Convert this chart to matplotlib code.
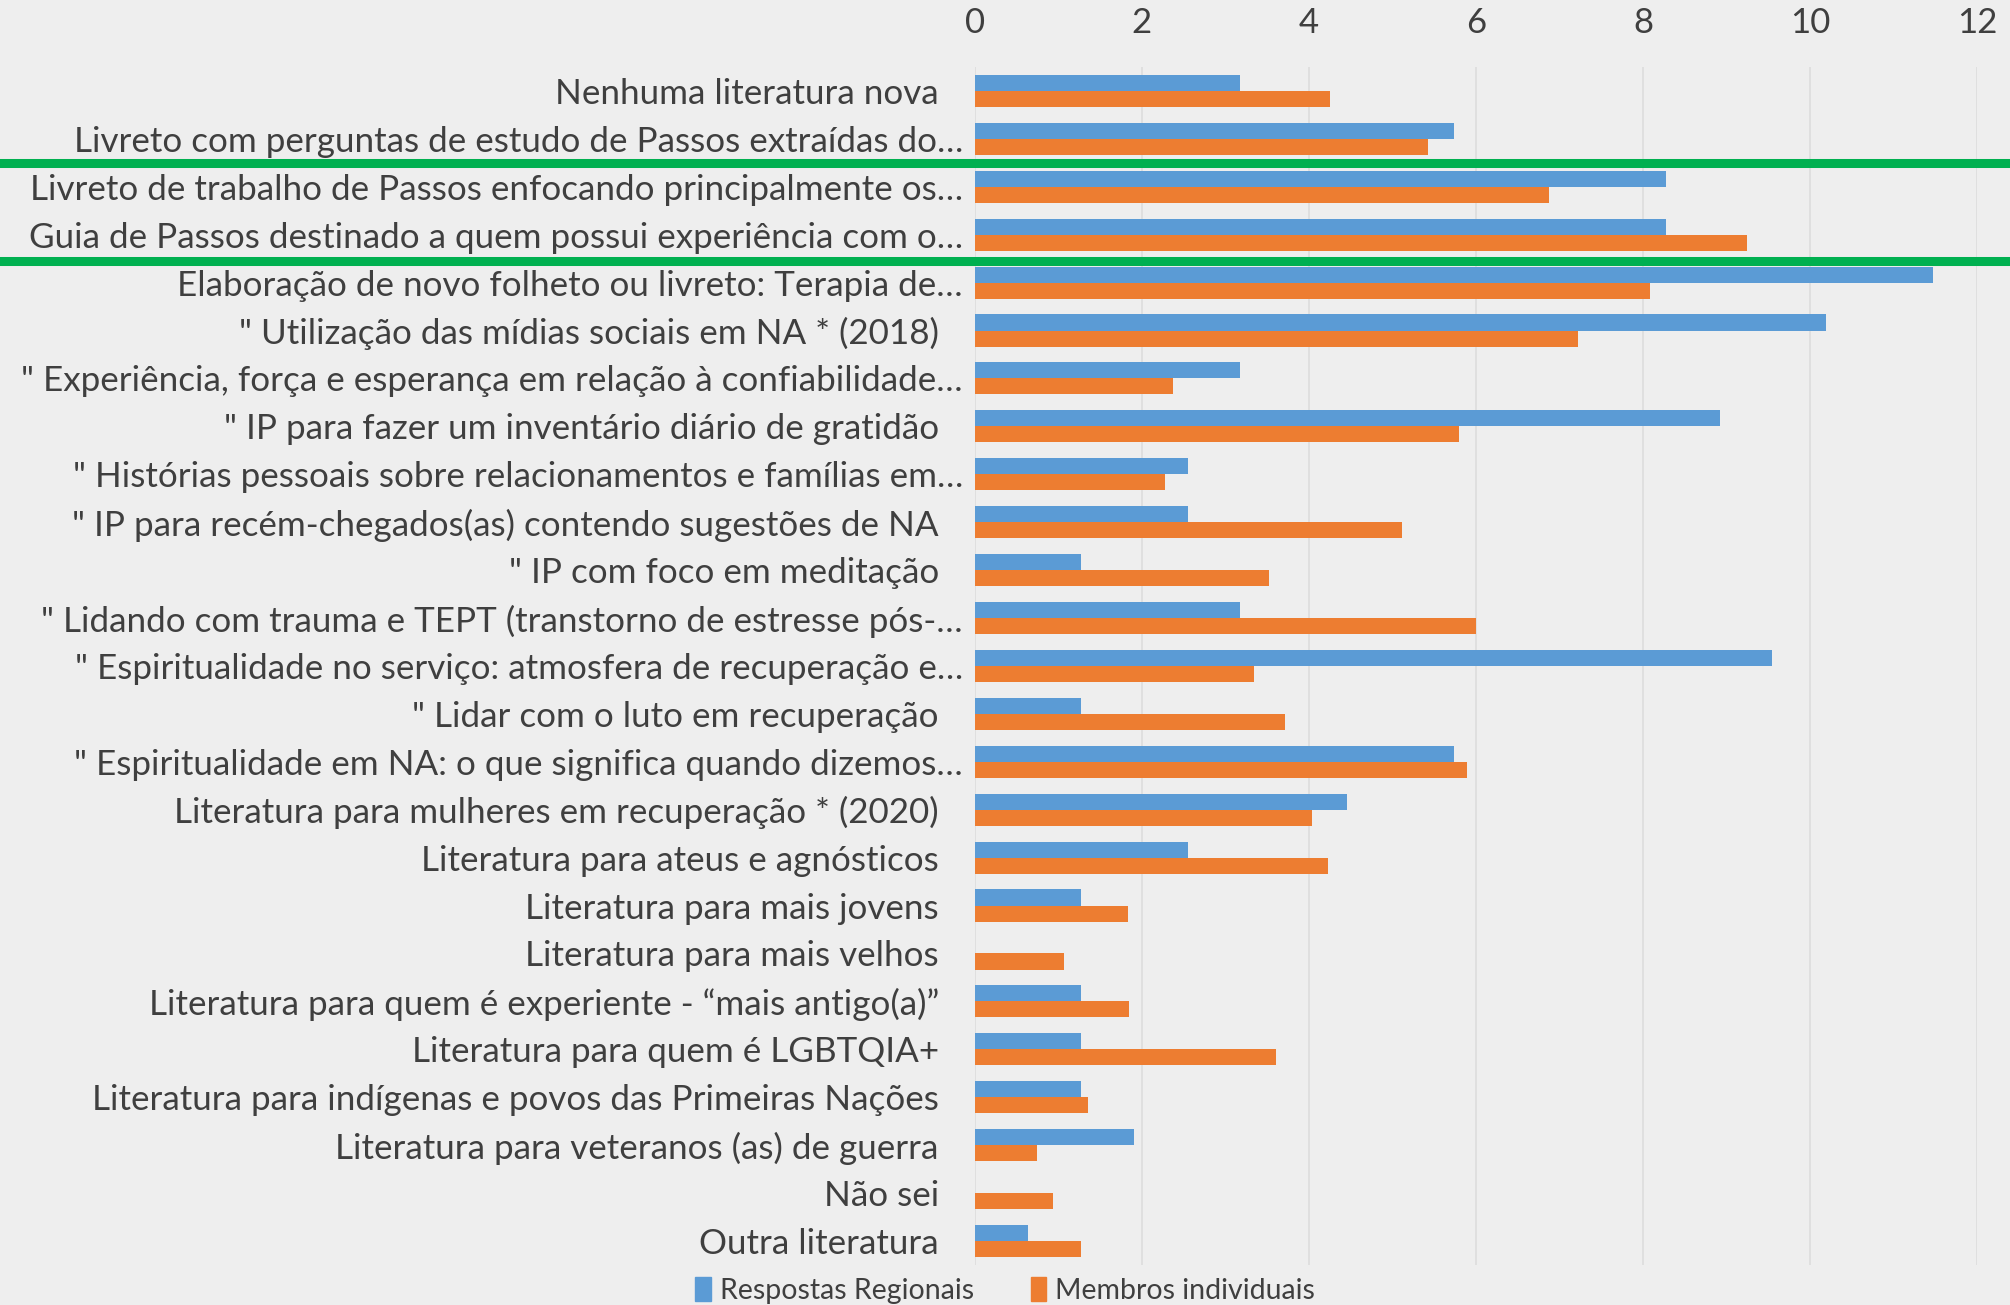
import matplotlib.pyplot as plt
import numpy as np
from matplotlib.lines import Line2D
from matplotlib.patches import Patch
from matplotlib import transforms

plt.rcParams['font.family'] = ['Lato', 'DejaVu Sans']

categorias = [
    "Nenhuma literatura nova",
    "Livreto com perguntas de estudo de Passos extraídas do…",
    "Livreto de trabalho de Passos enfocando principalmente os…",
    "Guia de Passos destinado a quem possui experiência com o…",
    "Elaboração de novo folheto ou livreto: Terapia de…",
    "\" Utilização das mídias sociais em NA * (2018)",
    "\" Experiência, força e esperança em relação à confiabilidade…",
    "\" IP para fazer um inventário diário de gratidão",
    "\" Histórias pessoais sobre relacionamentos e famílias em…",
    "\" IP para recém-chegados(as) contendo sugestões de NA",
    "\" IP com foco em meditação",
    "\" Lidando com trauma e TEPT (transtorno de estresse pós-…",
    "\" Espiritualidade no serviço: atmosfera de recuperação e…",
    "\" Lidar com o luto em recuperação",
    "\" Espiritualidade em NA: o que significa quando dizemos…",
    "Literatura para mulheres em recuperação * (2020)",
    "Literatura para ateus e agnósticos",
    "Literatura para mais jovens",
    "Literatura para mais velhos",
    "Literatura para quem é experiente - “mais antigo(a)”",
    "Literatura para quem é LGBTQIA+",
    "Literatura para indígenas e povos das Primeiras Nações",
    "Literatura para veteranos (as) de guerra",
    "Não sei",
    "Outra literatura",
]

regionais = [3.18, 5.74, 8.28, 8.28, 11.47, 10.19, 3.18, 8.92, 2.55, 2.55,
             1.27, 3.18, 9.55, 1.27, 5.74, 4.46, 2.55, 1.27, 0.0, 1.27,
             1.27, 1.27, 1.91, 0.0, 0.64]
individuais = [4.25, 5.42, 6.87, 9.25, 8.09, 7.22, 2.37, 5.80, 2.28, 5.12,
               3.52, 6.00, 3.34, 3.71, 5.89, 4.04, 4.23, 1.83, 1.07, 1.85,
               3.60, 1.35, 0.74, 0.93, 1.27]

azul = '#5B9BD5'
laranja = '#ED7D31'
fundo = '#EEEEEE'
texto = '#3F3F3F'

fig = plt.figure(figsize=(20.1, 13.05), dpi=100, facecolor=fundo)
ax = fig.add_axes([0.485, 0.0307, 0.4986, 0.918])
ax.set_facecolor(fundo)

y = np.arange(len(categorias))
h = 0.335
ax.barh(y - h / 2, regionais, height=h, color=azul, label='Respostas Regionais')
ax.barh(y + h / 2, individuais, height=h, color=laranja, label='Membros individuais')

ax.set_xlim(0, 12)
ax.set_ylim(len(categorias) - 0.5, -0.5)
ax.set_xticks(range(0, 13, 2))
ax.xaxis.tick_top()
ax.tick_params(axis='x', length=0, pad=20, labelsize=25, labelcolor=texto)
ax.set_yticks(y)
ax.set_yticklabels([])
ax.tick_params(axis='y', length=0)
ax.grid(axis='x', color='#DCDCDC', linewidth=1.2)
ax.set_axisbelow(True)
for s in ax.spines.values():
    s.set_visible(False)

# rótulos das categorias (os truncados com "…" ficam mais perto do eixo, como no Excel)
for i, cat in enumerate(categorias):
    dx = -0.12 if cat.endswith('…') else -0.36
    tr = ax.get_yaxis_transform() + transforms.ScaledTranslation(dx, 0, fig.dpi_scale_trans)
    ax.text(0, i, cat, transform=tr, ha='right', va='center_baseline',
            fontsize=25.2, color=texto)

# linhas verdes de destaque
trans = transforms.blended_transform_factory(fig.transFigure, ax.transData)
for yl in [1.5, 3.55]:
    fig.add_artist(Line2D([0, 1], [yl, yl], transform=trans, color='#00B050',
                          linewidth=6.5, clip_on=False))

handles = [Patch(color=azul), Patch(color=laranja)]
fig.legend(handles, ['Respostas Regionais', 'Membros individuais'],
           loc='center', bbox_to_anchor=(0.50, 0.011), ncol=2, frameon=False,
           fontsize=20.5, labelcolor=texto, handlelength=0.55, handleheight=0.9,
           handletextpad=0.3, columnspacing=2.0, borderpad=0)

fig.savefig('out.png', dpi=100, facecolor=fundo)
